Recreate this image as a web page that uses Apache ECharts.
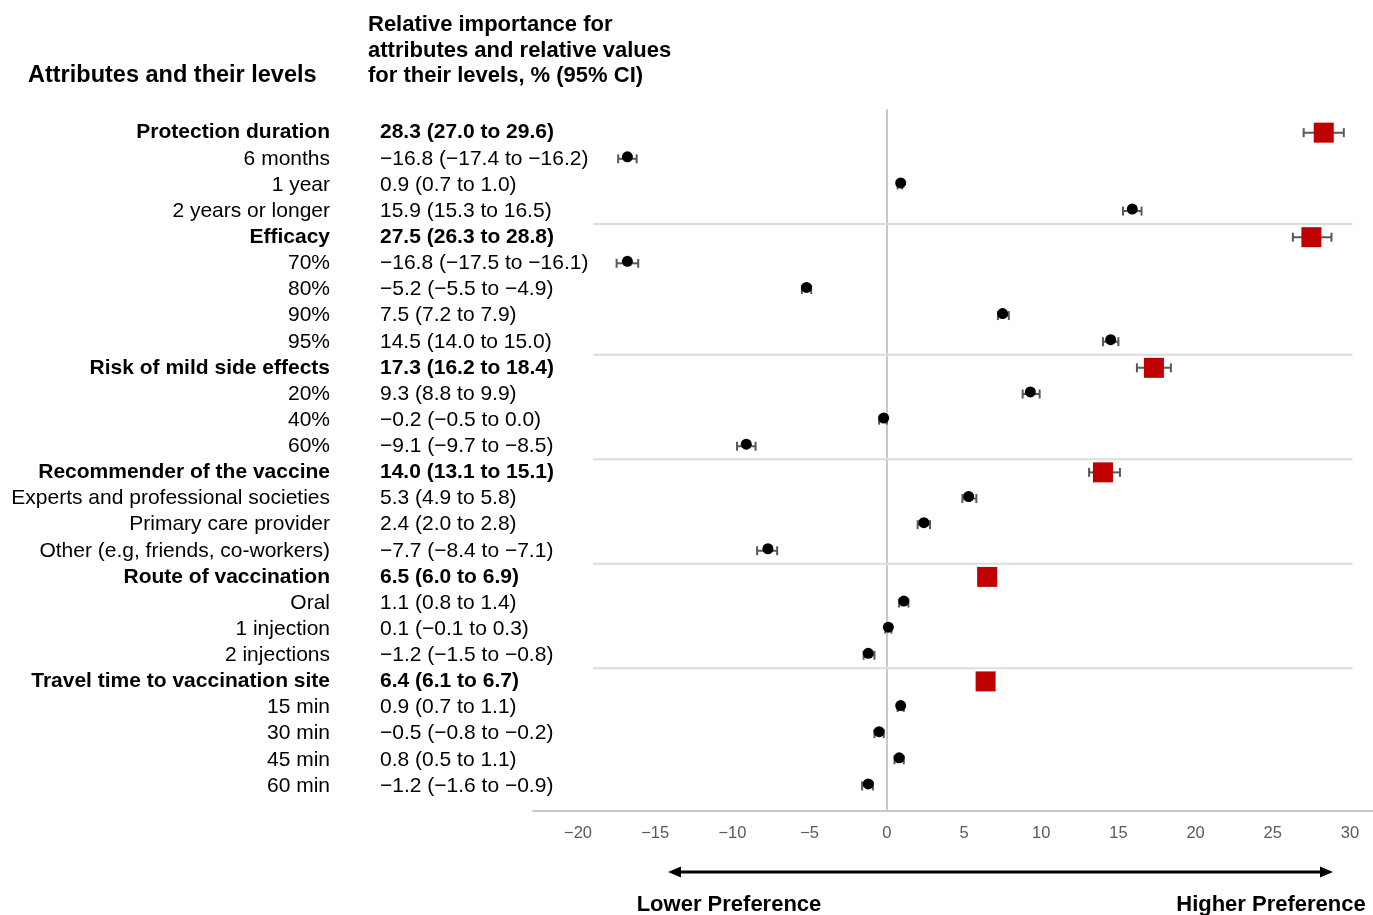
<!DOCTYPE html>
<html><head><meta charset="utf-8">
<script src="https://cdn.jsdelivr.net/npm/echarts@6/dist/echarts.min.js"></script>
<style>html,body{margin:0;padding:0;background:#fff}#c{width:1373px;height:915px}</style>
</head><body><div id="c"></div>
<script>
// ---- data ----
const labels = [
  'Protection duration','6 months','1 year','2 years or longer',
  'Efficacy','70%','80%','90%','95%',
  'Risk of mild side effects','20%','40%','60%',
  'Recommender of the vaccine','Experts and professional societies','Primary care provider','Other (e.g, friends, co-workers)',
  'Route of vaccination','Oral','1 injection','2 injections',
  'Travel time to vaccination site','15 min','30 min','45 min','60 min'
];
const headerRows = [0, 4, 9, 13, 17, 21];
const estimates = [28.3,-16.8,0.9,15.9, 27.5,-16.8,-5.2,7.5,14.5, 17.3,9.3,-0.2,-9.1, 14.0,5.3,2.4,-7.7, 6.5,1.1,0.1,-1.2, 6.4,0.9,-0.5,0.8,-1.2];
const lower     = [27.0,-17.4,0.7,15.3, 26.3,-17.5,-5.5,7.2,14.0, 16.2,8.8,-0.5,-9.7, 13.1,4.9,2.0,-8.4, 6.0,0.8,-0.1,-1.5, 6.1,0.7,-0.8,0.5,-1.6];
const upper     = [29.6,-16.2,1.0,16.5, 28.8,-16.1,-4.9,7.9,15.0, 18.4,9.9,0.0,-8.5, 15.1,5.8,2.8,-7.1, 6.9,1.4,0.3,-0.8, 6.7,1.1,-0.2,1.1,-0.9];
const xMin = -20, xMax = 30, xStep = 5;
const headerLeft = 'Attributes and their levels';
const headerRight = ['Relative importance for', 'attributes and relative values', 'for their levels, % (95% CI)'];
const arrowLeftText = 'Lower Preference';
const arrowRightText = 'Higher Preference';

// ---- helpers ----
const FONT = '"Liberation Sans", Arial, Helvetica, sans-serif';
const fmt = v => (v < 0 ? '\u2212' : '') + Math.abs(v).toFixed(1);
const valueText = estimates.map((e, i) => `${fmt(e)} (${fmt(lower[i])} to ${fmt(upper[i])})`);
const isHeader = i => headerRows.indexOf(i) >= 0;
const separatorRows = headerRows.slice(1).map(r => r - 1);

const errData = estimates.map((e, i) => [lower[i], upper[i], i]);
const squareData = headerRows.map(i => [estimates[i], i]);
const dotData = estimates.map((e, i) => [e, i]).filter(d => !isHeader(d[1]));

const richLabel = {
  b: { fontFamily: FONT, fontSize: 21, fontWeight: 'bold', color: '#000' },
  n: { fontFamily: FONT, fontSize: 21, color: '#000' }
};
const labFmt = (v, i) => (isHeader(i) ? '{b|' : '{n|') + v + '}';

const chart = echarts.init(document.getElementById('c'), null, { renderer: 'canvas' });
chart.setOption({
  animation: false,
  backgroundColor: '#fff',
  grid: [
    { left: 578, right: 23, top: 119.6, bottom: 116, containLabel: false },
    { left: 533, right: 0, top: 110, bottom: 104, containLabel: false }
  ],
  xAxis: [
    {
      gridIndex: 0, type: 'value', min: xMin, max: xMax, interval: xStep,
      axisLine: { show: false }, axisTick: { show: false }, splitLine: { show: false },
      axisLabel: { margin: 26, color: '#595959', fontFamily: FONT, fontSize: 16.5,
        formatter: v => (v < 0 ? '\u2212' + Math.abs(v) : String(v)) }
    },
    {
      gridIndex: 1, type: 'value', min: -22.927, max: 31.477,
      axisLine: { show: true, onZero: false, lineStyle: { color: '#c8c8c8', width: 2 } },
      axisTick: { show: false }, axisLabel: { show: false }, splitLine: { show: false }
    }
  ],
  yAxis: [
    {
      gridIndex: 0, type: 'category', data: labels, inverse: true, position: 'left',
      axisLine: { show: false }, axisTick: { show: false }, splitLine: { show: false },
      axisLabel: { margin: 248, align: 'right', formatter: labFmt, rich: richLabel, interval: 0 }
    },
    {
      gridIndex: 0, type: 'category', data: valueText, inverse: true, position: 'left',
      axisLine: { show: false }, axisTick: { show: false }, splitLine: { show: false },
      axisLabel: { margin: 198, align: 'left', formatter: labFmt, rich: richLabel, interval: 0 }
    },
    {
      gridIndex: 1, type: 'value', min: 0, max: 1,
      axisLine: { show: true, onZero: true, lineStyle: { color: '#c8c8c8', width: 2 } },
      axisTick: { show: false }, axisLabel: { show: false }, splitLine: { show: false }
    }
  ],
  series: [
    {
      type: 'custom', xAxisIndex: 0, yAxisIndex: 0, z: 1, silent: true,
      data: separatorRows.map(r => [r]),
      renderItem: (params, api) => {
        const r = api.value(0);
        const band = api.size([0, 1])[1];
        const a = api.coord([-19.02, r]);
        const b = api.coord([30.16, r]);
        const y = a[1] + band / 2;
        return { type: 'line', shape: { x1: a[0], y1: y, x2: b[0], y2: y },
          style: { stroke: '#dcdcdc', lineWidth: 2 } };
      }
    },
    {
      type: 'custom', xAxisIndex: 0, yAxisIndex: 0, z: 3, silent: true,
      data: errData,
      renderItem: (params, api) => {
        const p1 = api.coord([api.value(0), api.value(2)]);
        const p2 = api.coord([api.value(1), api.value(2)]);
        const h = 4.5;
        const st = { stroke: '#595959', lineWidth: 2 };
        return { type: 'group', children: [
          { type: 'line', shape: { x1: p1[0], y1: p1[1], x2: p2[0], y2: p2[1] }, style: st },
          { type: 'line', shape: { x1: p1[0], y1: p1[1] - h, x2: p1[0], y2: p1[1] + h }, style: st },
          { type: 'line', shape: { x1: p2[0], y1: p2[1] - h, x2: p2[0], y2: p2[1] + h }, style: st }
        ] };
      }
    },
    {
      type: 'scatter', xAxisIndex: 0, yAxisIndex: 0, z: 4, silent: true,
      symbol: 'rect', symbolSize: 20, itemStyle: { color: '#c00000', opacity: 1 },
      data: squareData
    },
    {
      type: 'scatter', xAxisIndex: 0, yAxisIndex: 0, z: 4, silent: true,
      symbol: 'circle', symbolSize: 11, symbolOffset: [0, -2], itemStyle: { color: '#000', opacity: 1 },
      data: dotData
    }
  ],
  graphic: [
    { type: 'text', x: 28, y: 76, style: { text: headerLeft, font: 'bold 23.5px ' + FONT, fill: '#000', verticalAlign: 'middle' } },
    { type: 'text', x: 368, y: 25, style: { text: headerRight[0], font: 'bold 22px ' + FONT, fill: '#000', verticalAlign: 'middle' } },
    { type: 'text', x: 368, y: 50.5, style: { text: headerRight[1], font: 'bold 22px ' + FONT, fill: '#000', verticalAlign: 'middle' } },
    { type: 'text', x: 368, y: 76, style: { text: headerRight[2], font: 'bold 22px ' + FONT, fill: '#000', verticalAlign: 'middle' } },
    { type: 'line', shape: { x1: 676, y1: 872, x2: 1325, y2: 872 }, style: { stroke: '#000', lineWidth: 3 } },
    { type: 'polygon', shape: { points: [[668, 872], [681, 866.5], [681, 877.5]] }, style: { fill: '#000' } },
    { type: 'polygon', shape: { points: [[1333, 872], [1320, 866.5], [1320, 877.5]] }, style: { fill: '#000' } },
    { type: 'text', x: 729, y: 905, style: { text: arrowLeftText, font: 'bold 22px ' + FONT, fill: '#000', align: 'center', verticalAlign: 'middle' } },
    { type: 'text', x: 1271, y: 905, style: { text: arrowRightText, font: 'bold 22px ' + FONT, fill: '#000', align: 'center', verticalAlign: 'middle' } }
  ]
});
</script>
</body></html>
